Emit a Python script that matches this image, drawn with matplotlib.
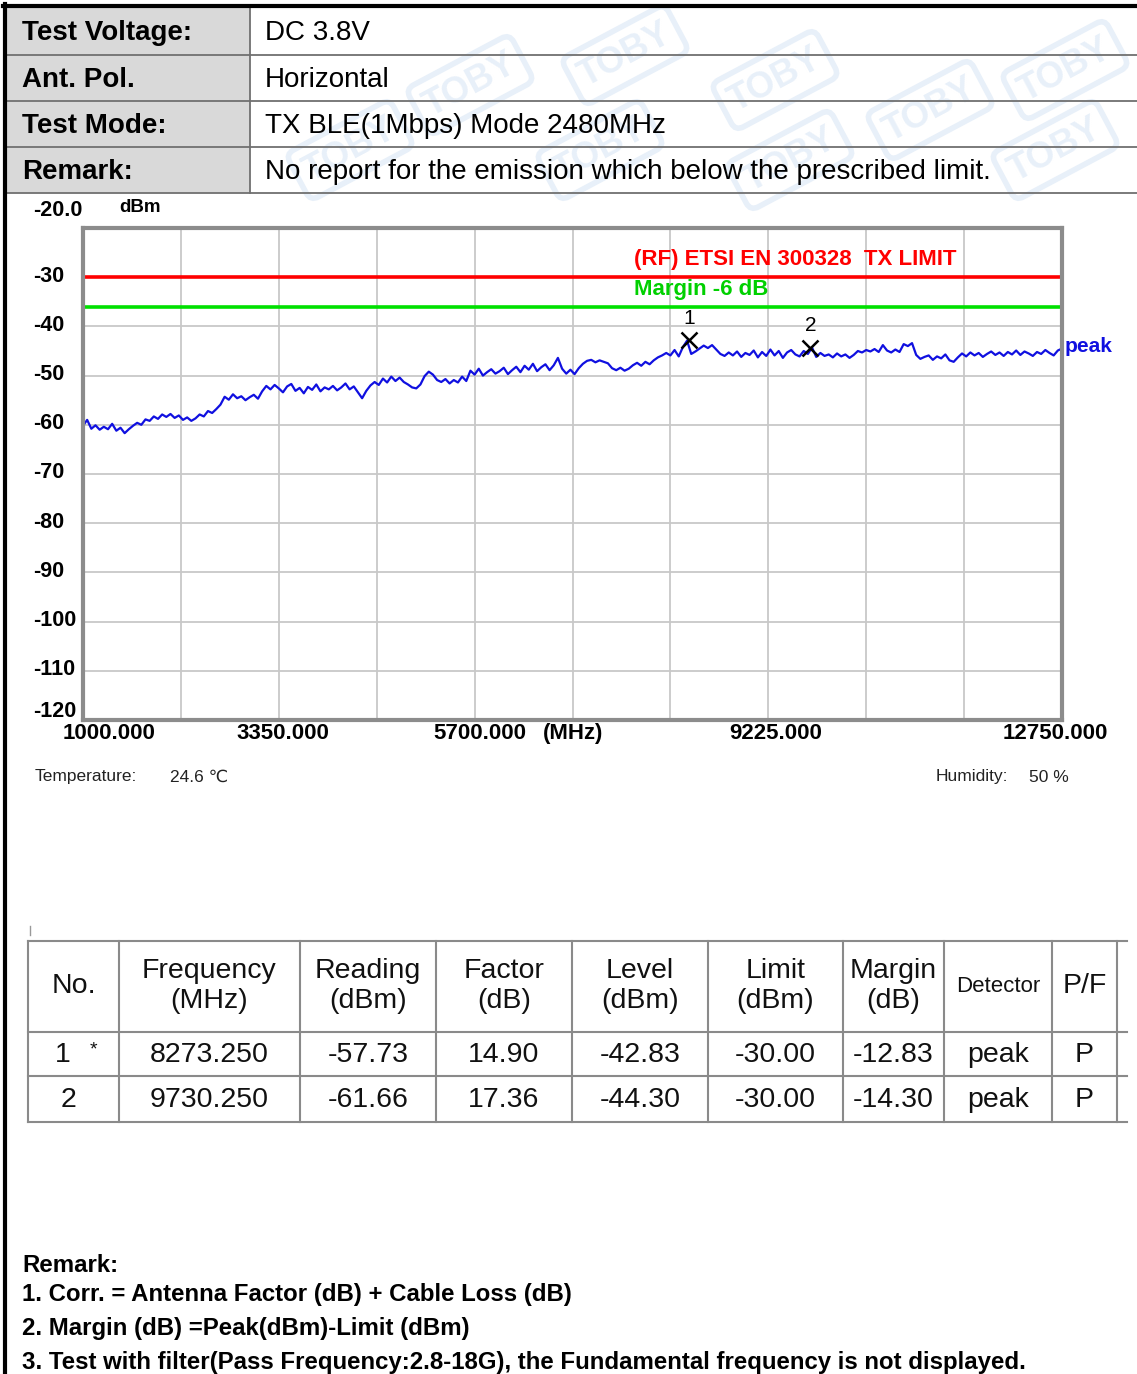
import matplotlib
matplotlib.use('Agg')
import matplotlib.pyplot as plt
from matplotlib.patches import Rectangle
import numpy as np

plt.rcParams['font.family'] = ['Liberation Sans', 'DejaVu Sans']

# ---- header info ----
info_keys = ['Test Voltage:', 'Ant. Pol.', 'Test Mode:', 'Remark:']
info_vals = ['DC 3.8V', 'Horizontal', 'TX BLE(1Mbps) Mode 2480MHz',
             'No report for the emission which below the prescribed limit.']

# ---- spectrum trace (50 MHz steps) ----
freq_start = 1000.0
freq_step = 50.0
trace_dbm = [
    # 1000-1950
    -60.2, -59.0, -60.8, -60.1, -61.0, -60.4, -60.9, -59.8, -61.2, -60.6,
    -61.7, -60.9, -60.2, -59.6, -60.0, -58.9, -59.2, -58.3, -58.8, -57.9,
    # 2000-2950
    -58.4, -57.8, -58.6, -58.1, -59.0, -58.5, -59.2, -58.7, -57.9, -58.3,
    -57.2, -57.6, -56.8, -55.9, -54.3, -54.9, -53.8, -54.6, -54.2, -55.0,
    # 3000-3950
    -54.4, -53.9, -54.7, -53.2, -52.1, -52.8, -51.9, -52.6, -53.4, -52.2,
    -51.7, -53.1, -52.5, -53.6, -52.3, -52.9, -51.8, -53.2, -52.4, -52.8,
    # 4000-4950
    -52.1, -53.0, -52.4, -51.6, -52.8, -52.2, -53.4, -54.6, -53.1, -52.0,
    -51.3, -51.9, -50.6, -51.4, -50.2, -51.1, -50.4, -51.3, -51.8, -52.4,
    # 5000-5950
    -52.6, -51.8, -50.1, -49.2, -49.8, -50.9, -51.3, -50.7, -51.6, -50.9,
    -51.4, -50.2, -51.1, -49.0, -49.8, -48.6, -50.0, -49.3, -48.7, -49.6,
    # 6000-6950
    -49.1, -48.4, -49.7, -48.9, -48.2, -49.3, -48.0, -48.8, -47.6, -49.1,
    -48.3, -47.7, -48.9, -47.9, -46.4, -48.6, -49.6, -48.8, -49.7, -48.5,
    # 7000-7950
    -47.6, -47.0, -46.8, -47.3, -46.9, -47.2, -47.5, -48.5, -48.9, -48.4,
    -49.0, -48.6, -47.9, -47.4, -48.0, -47.2, -47.7, -46.9, -46.3, -45.9,
    # 8000-8950
    -45.4, -45.9, -44.8, -46.1, -44.2, -42.9, -45.6, -45.1, -44.5, -43.9,
    -44.4, -43.8, -44.7, -45.6, -46.0, -45.3, -45.9, -45.1, -46.2, -45.4,
    # 9000-9950
    -45.8, -44.9, -46.3, -45.2, -46.0, -44.7, -45.9, -45.0, -46.4, -45.3,
    -44.8, -45.7, -46.1, -45.0, -45.6, -44.3, -46.2, -45.4, -46.0, -45.7,
    # 10000-10950
    -46.3, -45.5, -46.1, -45.7, -46.4, -45.8, -45.0, -45.3, -44.8, -45.1,
    -44.6, -45.2, -43.8, -44.9, -45.3, -44.7, -45.2, -43.6, -44.0, -43.4,
    # 11000-11950
    -45.8, -46.6, -46.2, -45.9, -46.8, -46.1, -46.5, -45.7, -46.9, -47.2,
    -46.3, -45.5, -46.1, -45.3, -45.9, -45.4, -46.2, -45.6, -45.1, -45.8,
    # 12000-12750
    -45.3, -46.0, -45.2, -45.7, -44.9, -45.8, -45.1, -45.5, -46.0, -45.2,
    -45.6, -44.8, -45.4, -45.9, -44.9, -44.5,
]
trace_freq = freq_start + freq_step * np.arange(len(trace_dbm))

limit_dbm = -30.0
margin_dbm = -36.0

x_tick_vals = [1000, 3350, 5700, 9225, 12750]
x_tick_labels = ['1000.000', '3350.000', '5700.000', '9225.000', '12750.000']
y_tick_vals = [-20, -30, -40, -50, -60, -70, -80, -90, -100, -110, -120]
y_tick_labels = ['-20.0', '-30', '-40', '-50', '-60', '-70', '-80', '-90', '-100', '-110', '-120']

# ---- result table ----
col_heads = ['No.', 'Frequency\n(MHz)', 'Reading\n(dBm)', 'Factor\n(dB)', 'Level\n(dBm)',
             'Limit\n(dBm)', 'Margin\n(dB)', 'Detector', 'P/F']
row_no = ['1', '2']
row_star = ['*', '']
row_freq = [8273.250, 9730.250]
row_reading = [-57.73, -61.66]
row_factor = [14.90, 17.36]
row_level = [-42.83, -44.30]
row_limit = [-30.00, -30.00]
row_margin = [-12.83, -14.30]
row_detector = ['peak', 'peak']
row_pf = ['P', 'P']

remarks = ['Remark:',
           '1. Corr. = Antenna Factor (dB) + Cable Loss (dB)',
           '2. Margin (dB) =Peak(dBm)-Limit (dBm)',
           '3. Test with filter(Pass Frequency:2.8-18G), the Fundamental frequency is not displayed.']

W, H = 1137, 1374
fig = plt.figure(figsize=(W / 100, H / 100), dpi=100)
fig.patch.set_facecolor('white')


def pt(px):
    return px * 0.72


# page layer in pixel coords
pg = fig.add_axes([0, 0, 1, 1])
pg.set_xlim(0, W)
pg.set_ylim(H, 0)
pg.axis('off')

# faint watermark stamps
for sx, sy in [(470, 85), (625, 55), (775, 80), (930, 110), (1065, 70), (600, 150),
               (1055, 150), (350, 150), (790, 160)]:
    pg.text(sx, sy, 'TOBY', rotation=28, fontsize=26, fontweight='bold', color='#e8f0f9',
            ha='center', va='center', zorder=0,
            bbox=dict(boxstyle='round,pad=0.25', fc='none', ec='#e8f0f9', lw=4))

# header table
rows_y = [7, 55, 101, 147, 193]
pg.add_patch(Rectangle((7, 7), 243, 186, fc='#d9d9d9', ec='none', zorder=1))
for yy in rows_y[1:]:
    pg.plot([7, W], [yy, yy], color='#707070', lw=1.3, zorder=2)
pg.plot([250, 250], [7, 193], color='#707070', lw=1.3, zorder=2)
pg.plot([3, W], [6, 6], color='black', lw=3, zorder=3)
pg.plot([5, 5], [4, H], color='black', lw=3, zorder=3)
for i in range(4):
    yc = (rows_y[i] + rows_y[i + 1]) / 2 + 2
    pg.text(22, yc, info_keys[i], fontsize=20, fontweight='bold', va='center', ha='left', zorder=4)
    pg.text(265, yc, info_vals[i], fontsize=20, va='center', ha='left', zorder=4)

# temperature / humidity
pg.text(35, 777, 'Temperature:', fontsize=12.5, color='#222222', va='center')
pg.text(170, 777, '24.6 \u2103', fontsize=12.5, color='#222222', va='center')
pg.text(936, 777, 'Humidity:', fontsize=12.5, color='#222222', va='center')
pg.text(1029, 777, '50 %', fontsize=12.5, color='#222222', va='center')
pg.plot([30, 30], [926, 935], color='#999999', lw=1)

# result table
col_x = [28, 119, 300, 436, 572, 708, 843, 944, 1052, 1117]
row_y = [941, 1032, 1076, 1122]
for yy in row_y:
    pg.plot([28, 1127], [yy, yy], color='#8a8a8a', lw=1.5)
for xx in col_x:
    pg.plot([xx, xx], [941, 1122], color='#8a8a8a', lw=1.5)
for j, head in enumerate(col_heads):
    xc = (col_x[j] + col_x[j + 1]) / 2
    fs = 16 if head == 'Detector' else 20.5
    pg.text(xc, 986, head, fontsize=fs, ha='center', va='center', linespacing=1.15, color='#111111')
for i in range(len(row_no)):
    yc = (row_y[i + 1] + row_y[i + 2]) / 2 + 1
    cells = ['%.3f' % row_freq[i], '%.2f' % row_reading[i], '%.2f' % row_factor[i],
             '%.2f' % row_level[i], '%.2f' % row_limit[i], '%.2f' % row_margin[i],
             row_detector[i], row_pf[i]]
    if row_star[i]:
        pg.text(63, yc, row_no[i], fontsize=20.5, ha='center', va='center', color='#111111')
        pg.text(93, yc - 5, row_star[i], fontsize=14, ha='center', va='center', color='#111111')
    else:
        pg.text(68, yc, row_no[i], fontsize=20.5, ha='center', va='center', color='#111111')
    for j, c in enumerate(cells):
        xc = (col_x[j + 1] + col_x[j + 2]) / 2
        pg.text(xc, yc, c, fontsize=20.5, ha='center', va='center', color='#111111')

# remarks
for k, line in enumerate(remarks):
    pg.text(22, [1266, 1294, 1329, 1362][k], line, fontsize=17.3, fontweight='bold', va='center', ha='left')

# ---- spectrum chart ----
left, right, top, bottom = 83, 1062, 228, 720
ax = fig.add_axes([left / W, 1 - bottom / H, (right - left) / W, (bottom - top) / H])
ax.set_xlim(1000, 12750)
ax.set_ylim(-120, -20)
ax.set_xticks(np.linspace(1000, 12750, 11))
ax.set_yticks(y_tick_vals)
ax.set_xticklabels([])
ax.set_yticklabels([])
ax.tick_params(length=0)
ax.grid(True, color='#c8c8c8', lw=1.3)
ax.set_axisbelow(True)
for sp in ax.spines.values():
    sp.set_color('#8c8c8c')
    sp.set_linewidth(3)

ax.axhline(limit_dbm, color='#ff0000', lw=2.6)
ax.axhline(margin_dbm, color='#00e000', lw=2.6)
ax.plot(trace_freq, trace_dbm, color='#1010e0', lw=1.6)

ax.plot(row_freq, row_level, 'x', color='black', ms=11, mew=1.8)
for i in range(len(row_no)):
    ax.annotate(row_no[i], xy=(row_freq[i], row_level[i]), xytext=(0, pt(22)),
                textcoords='offset points', ha='center', va='center', fontsize=15)

ax.text(7613, -26.5, '(RF) ETSI EN 300328  TX LIMIT', color='#ff0000', fontsize=16,
        fontweight='bold', va='center', ha='left')
ax.text(7613, -32.4, 'Margin -6 dB', color='#00d000', fontsize=16,
        fontweight='bold', va='center', ha='left')
ax.annotate('peak', xy=(1, -44.0), xycoords=ax.get_yaxis_transform(), xytext=(pt(3), 0),
            textcoords='offset points', color='#1010e0', fontsize=15, fontweight='bold',
            ha='left', va='center', annotation_clip=False)

# axis labels
x_off = {'1000.000': (-20, 'left'), '3350.000': (4, 'center'), '5700.000': (5, 'center'),
         '9225.000': (7, 'center'), '12750.000': (-7, 'center')}
for v, lab in zip(x_tick_vals, x_tick_labels):
    dx, ha = x_off[lab]
    ax.annotate(lab, xy=(v, -120), xytext=(pt(dx), pt(-14)), textcoords='offset points',
                ha=ha, va='center', fontsize=16, fontweight='bold', annotation_clip=False)
ax.annotate('(MHz)', xy=(5700, -120), xytext=(pt(68), pt(-14)), textcoords='offset points',
            ha='left', va='center', fontsize=16, fontweight='bold', annotation_clip=False)

for v, lab in zip(y_tick_vals, y_tick_labels):
    dy = 18 if v == -20 else (8 if v == -120 else 1)
    ax.annotate(lab, xy=(0, v), xycoords=ax.get_yaxis_transform(), xytext=(pt(-50), pt(dy)),
                textcoords='offset points', ha='left', va='center', fontsize=15.5,
                fontweight='bold', annotation_clip=False)
ax.annotate('dBm', xy=(0, -20), xycoords=ax.get_yaxis_transform(), xytext=(pt(36), pt(21)),
            textcoords='offset points', ha='left', va='center', fontsize=13.5,
            fontweight='bold', annotation_clip=False)

fig.savefig('out.png', dpi=100, facecolor='white')
